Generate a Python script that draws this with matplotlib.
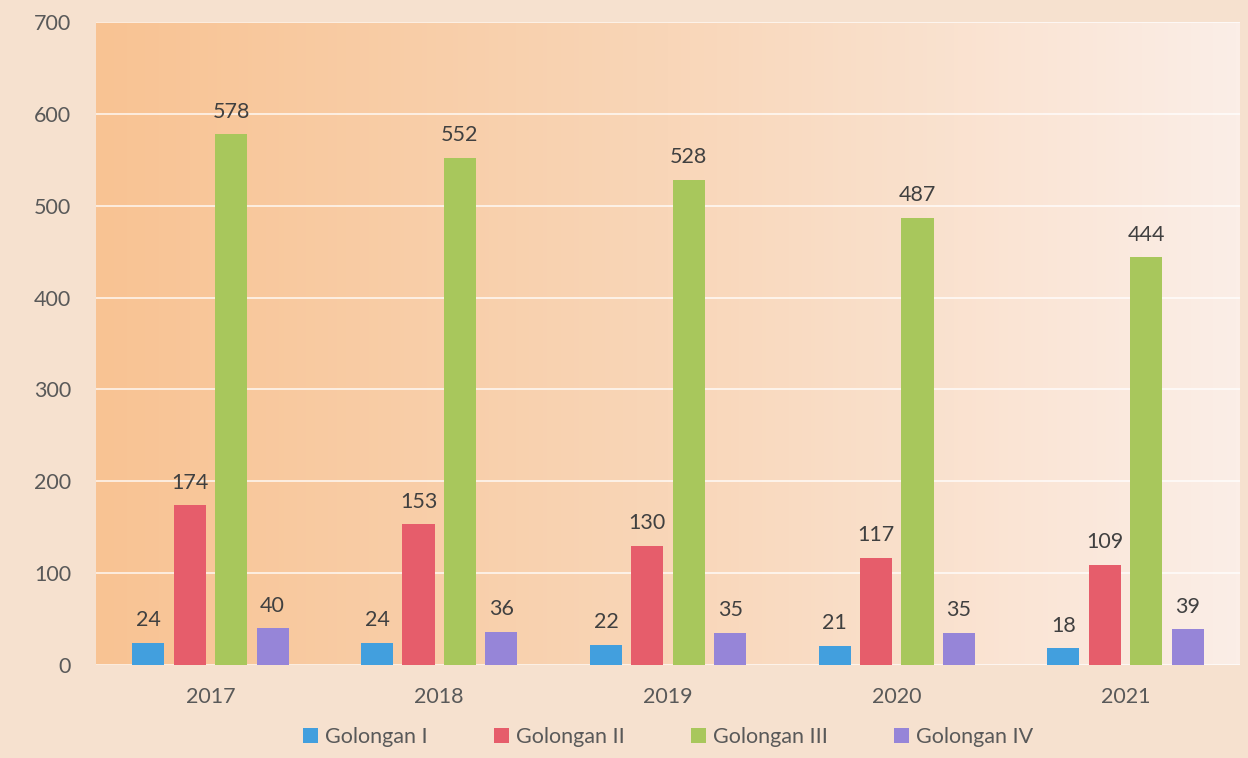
import numpy as np
import matplotlib.pyplot as plt
from matplotlib.colors import LinearSegmentedColormap

years = ["2017", "2018", "2019", "2020", "2021"]
series = ["Golongan I", "Golongan II", "Golongan III", "Golongan IV"]
gol_1 = [24, 24, 22, 21, 18]
gol_2 = [174, 153, 130, 117, 109]
gol_3 = [578, 552, 528, 487, 444]
gol_4 = [40, 36, 35, 35, 39]
colors = ["#429FDE", "#E65D6B", "#A8C75C", "#9685D8"]

plt.rcParams["font.family"] = ["Lato", "DejaVu Sans"]
FS = 15.5

fig = plt.figure(figsize=(12.48, 7.58), dpi=100, facecolor="#F6E1CF")
ax = fig.add_axes([96 / 1248, 93 / 758, 1144 / 1248, 643 / 758])
ax.set_facecolor("none")

# horizontal gradient for plot area
cmap = LinearSegmentedColormap.from_list("bg", ["#F8C393", "#F9D6B8", "#FBEEE7"])
grad = np.linspace(0, 1, 256).reshape(1, -1)
ax.imshow(grad, cmap=cmap, aspect="auto", extent=(0, 1, 0, 1),
          transform=ax.transAxes, zorder=0)

x = np.arange(len(years))
width = 0.14
step = 0.181
for i, (vals, lab) in enumerate(zip([gol_1, gol_2, gol_3, gol_4], series)):
    off = (i - 1.5) * step
    bars = ax.bar(x + off, vals, width, color=colors[i], label=lab, zorder=3)
    for b, v in zip(bars, vals):
        ax.annotate(str(v), (b.get_x() + b.get_width() / 2, v),
                    xytext=(0, 9), textcoords="offset points",
                    ha="center", va="bottom", fontsize=FS, color="#404040", zorder=4)

ax.set_xlim(-0.5, 4.5)
ax.set_ylim(0, 700)
ax.set_yticks(range(0, 701, 100))
ax.set_xticks(x)
ax.set_xticklabels(years)
ax.grid(axis="y", color="white", linewidth=1.3, alpha=0.75, zorder=1)
ax.set_axisbelow(False)
for s in ax.spines.values():
    s.set_visible(False)
ax.tick_params(length=0, labelsize=FS, labelcolor="#595959")
ax.tick_params(axis="y", pad=18)
ax.tick_params(axis="x", pad=16)

ax.legend(loc="center", bbox_to_anchor=(0.5, -0.112), ncol=4, frameon=False,
          fontsize=FS, labelcolor="#595959", handlelength=0.7, handleheight=0.7,
          handletextpad=0.3, columnspacing=3.1)

fig.savefig("out.png", dpi=100, facecolor=fig.get_facecolor())
